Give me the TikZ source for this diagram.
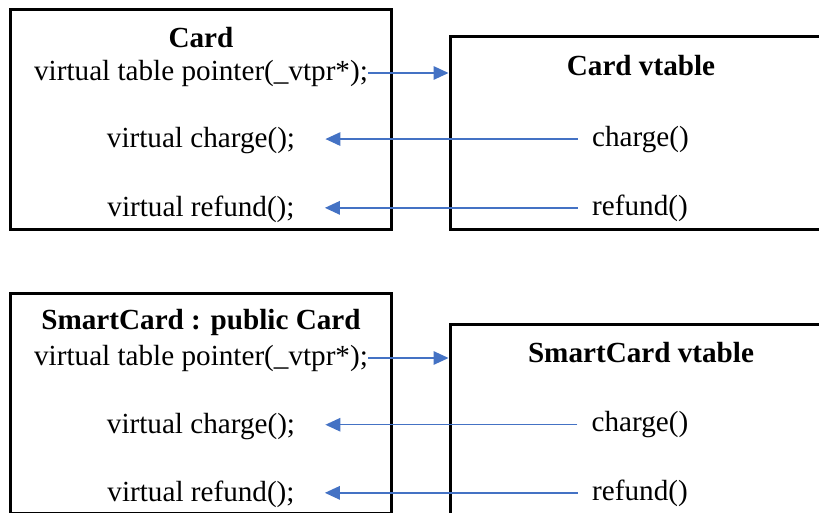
\documentclass[tikz,border=0pt]{standalone}
\usepackage{fontspec}
\setmainfont{Liberation Serif}
\usetikzlibrary{arrows.meta}
\definecolor{linkblue}{HTML}{4472C4}
\begin{document}
\begin{tikzpicture}[x=0.02cm,y=-0.02cm,>={Triangle[length=0.3cm,width=0.27cm]}]
  \tikzstyle{cls}=[draw, line width=1.7pt, minimum width=7.61cm, minimum height=4.41cm]
  \tikzstyle{vtab}=[draw, line width=1.7pt, minimum width=7.8cm]
  \tikzstyle{lbl}=[inner sep=0pt, anchor=base, font=\fontsize{16.6pt}{20pt}\selectfont]
  \tikzstyle{ttl}=[lbl, font=\fontsize{16.6pt}{20pt}\selectfont\bfseries]
  \tikzstyle{ptr}=[->, linkblue, line width=0.85pt]

  \useasboundingbox (0,0) rectangle (819,512);
  \clip (0,0) rectangle (819,512);

  \node[cls] (card) at (201.2,119.3) {};
  \node[vtab, minimum height=3.87cm] (cardvt) at (645,132.9) {};
  \node[cls] (smart) at (201.2,403.7) {};
  \node[vtab, minimum height=3.91cm] (smartvt) at (645,422.3) {};

  \node[ttl] (cardname) at (201,47.7) {Card};
  \node[lbl] (cardptr) at (201,80) {virtual table pointer(\_vtpr*);};
  \node[lbl] (cardvchg) at (201,147.7) {virtual charge();};
  \node[lbl] (cardvref) at (201,216.7) {virtual refund();};
  \node[ttl] (cardvtname) at (641,75) {Card vtable};
  \node[lbl] (cardchg) at (640.5,146) {charge()};
  \node[lbl] (cardref) at (640,215) {refund()};

  \node[ttl] (smartname) at (201,329.3) {SmartCard : public Card};
  \node[lbl] (smartptr) at (201,365) {virtual table pointer(\_vtpr*);};
  \node[lbl] (smartvchg) at (201,433.3) {virtual charge();};
  \node[lbl] (smartvref) at (201,501.7) {virtual refund();};
  \node[ttl] (smartvtname) at (641,362.7) {SmartCard vtable};
  \node[lbl] (smartchg) at (640,431.7) {charge()};
  \node[lbl] (smartref) at (640,500) {refund()};

  \draw[ptr] (cardptr.east) -- (cardptr.east -| cardvt.west);
  \draw[ptr, shorten <=0.28cm, shorten >=0.6cm] (cardchg.west) -- (cardchg.west -| cardvchg.east);
  \draw[ptr, shorten <=0.28cm, shorten >=0.6cm] (cardref.west) -- (cardref.west -| cardvref.east);

  \draw[ptr] (smartptr.east) -- (smartptr.east -| smartvt.west);
  \draw[ptr, shorten <=0.28cm, shorten >=0.6cm] (smartchg.west) -- (smartchg.west -| smartvchg.east);
  \draw[ptr, shorten <=0.28cm, shorten >=0.6cm] (smartref.west) -- (smartref.west -| smartvref.east);
\end{tikzpicture}
\end{document}
